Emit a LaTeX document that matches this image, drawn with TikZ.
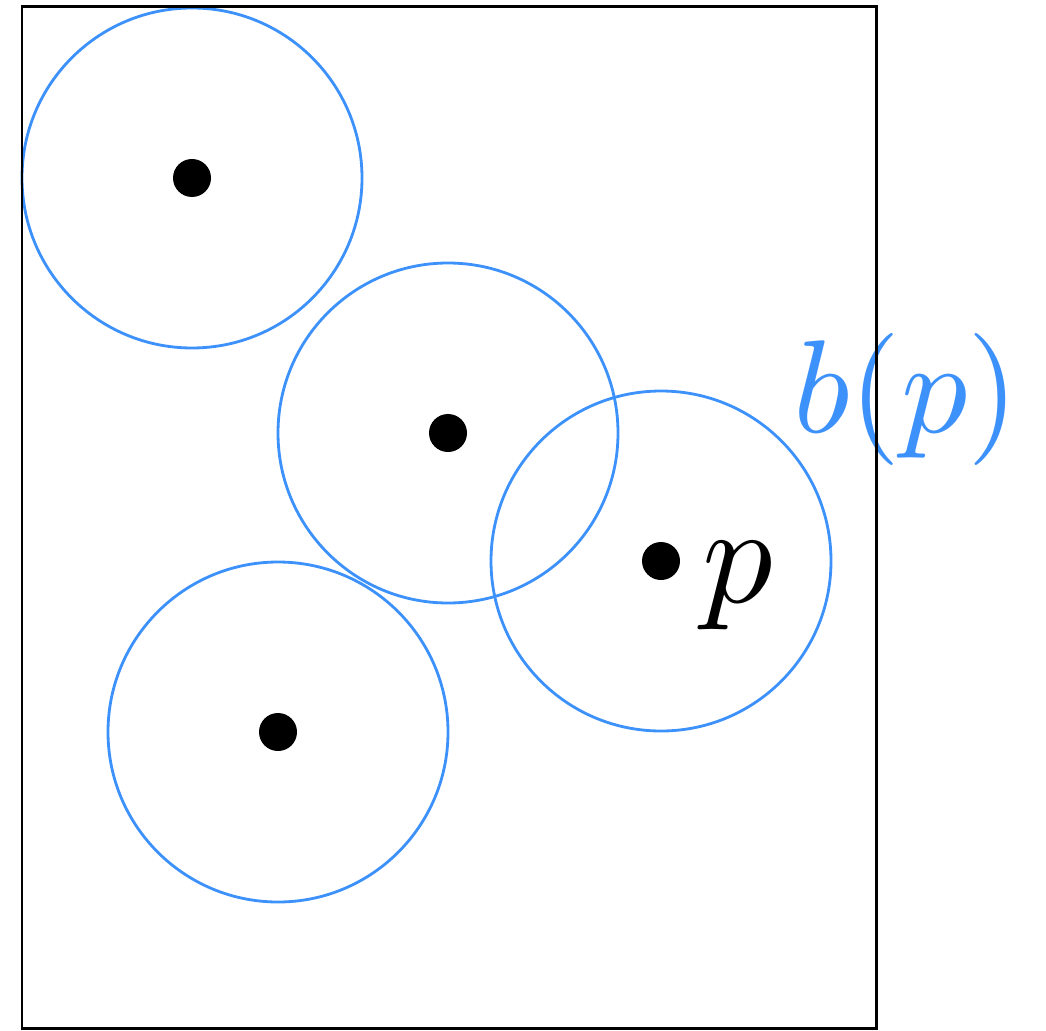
\documentclass[tikz,border=0pt]{standalone}
\definecolor{ballblue}{RGB}{61,145,250}
\tikzset{ball/.style={draw=ballblue,line width=0.8pt},
  biglabel/.style={inner sep=0pt,scale=4}}
\begin{document}
\begin{tikzpicture}
  \useasboundingbox (0,0) rectangle (10.46,10.30);
  \coordinate (c1) at (1.92, 8.52);
  \coordinate (c2) at (4.48, 5.97);
  \coordinate (p) at (6.61, 4.69);
  \coordinate (c3) at (2.78, 2.98);
  \draw[ball] (c1) circle (1.7);
  \draw[ball] (c2) circle (1.7);
  \draw[ball] (p) circle (1.7);
  \draw[ball] (c3) circle (1.7);
  \fill (c1) circle (0.19);
  \fill (c2) circle (0.19);
  \fill (p) circle (0.19);
  \fill (c3) circle (0.19);
  \node[biglabel] (plabel) at (7.38, 4.44) {$p$};
  \node[biglabel,scale=0.94,text=ballblue] (blabel) at (9.06, 6.31) {$b(p)$};
  \draw[line width=0.85pt] (0.22,0.02) rectangle (8.76,10.23);
\end{tikzpicture}
\end{document}
